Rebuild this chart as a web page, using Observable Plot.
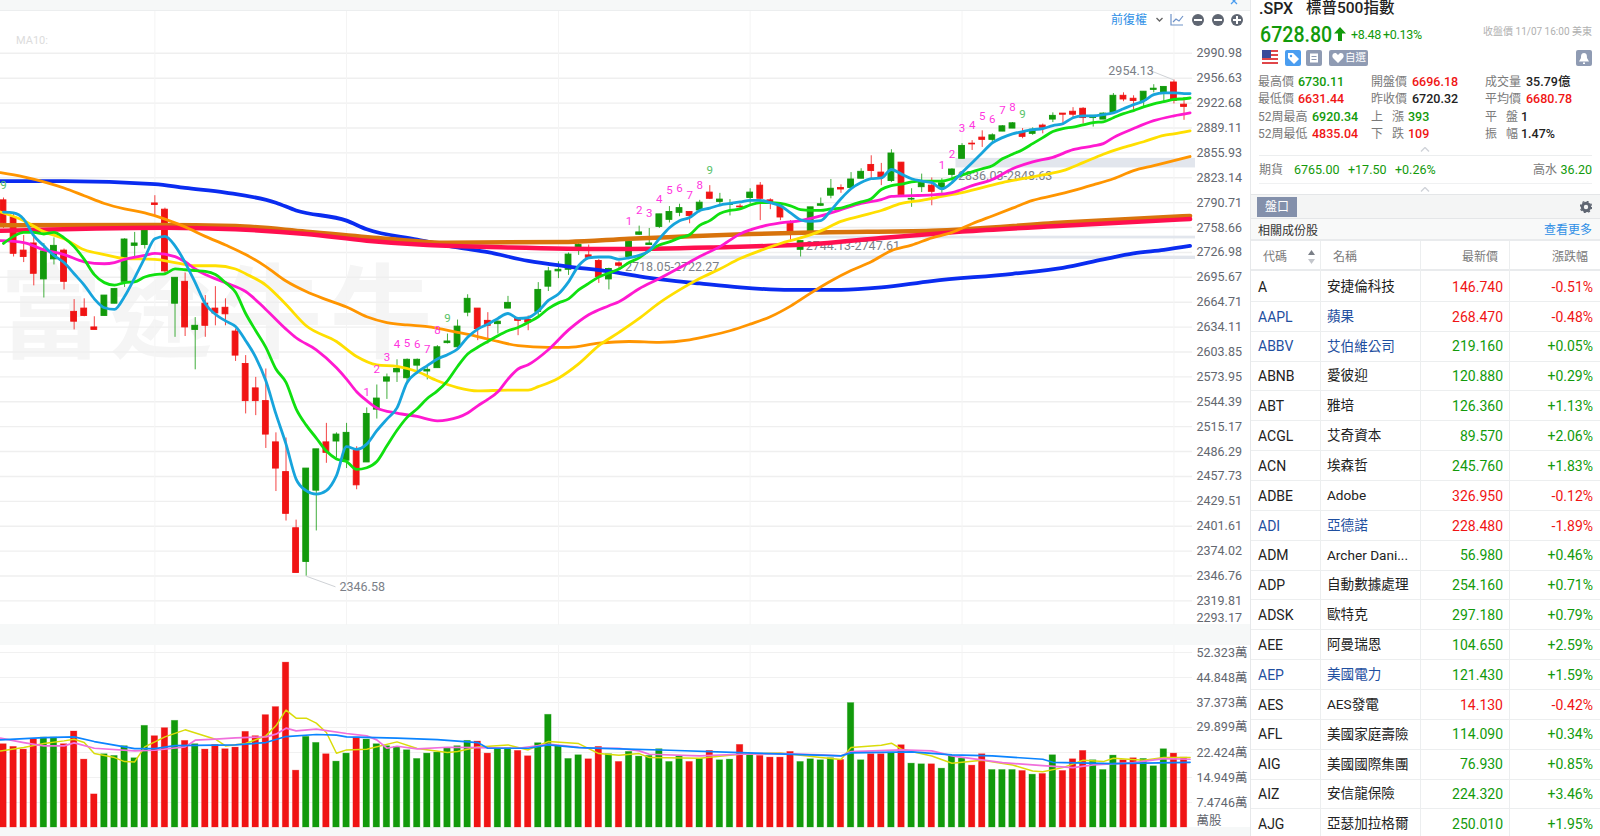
<!DOCTYPE html>
<html lang="zh-Hant">
<head>
<meta charset="utf-8">
<script src="https://cdn.jsdelivr.net/npm/d3@7"></script>
<script src="https://cdn.jsdelivr.net/npm/@observablehq/plot@0.6"></script>
<style>
html,body{margin:0;padding:0;background:#fff;width:1600px;height:836px;overflow:hidden;font-family:Roboto,"Noto Sans CJK TC",sans-serif;}
.abs{position:absolute;white-space:nowrap;line-height:1;}
#chartArea svg{position:absolute;left:0;overflow:visible;background:transparent;}
.band{position:absolute;left:0;width:1250px;background:#f6f8f8;}
#panel{position:absolute;left:1250px;top:0;width:350px;height:836px;border-left:1px solid #e6e8ea;box-sizing:border-box;background:#fff;}
.lab{color:#7a7a7a}.g{color:#129a0b}.r{color:#f01414}.k{color:#222}
</style>
</head>
<body>
<div id="chartArea"></div>
<script>
// ---- price pane ----
const priceTicks=[2990.98,2956.63,2922.68,2889.11,2855.93,2823.14,2790.71,2758.66,2726.98,2695.67,2664.71,2634.11,2603.85,2573.95,2544.39,2515.17,2486.29,2457.73,2429.51,2401.61,2374.02,2346.76,2319.81];
const lastPriceTick=2293.17;
const monthStarts=[15,34,55,74,95,116];
const labelledLow=2346.58, labelledHigh=2954.13;
const opens=[2795,2773,2731,2740,2695,2720,2731,2655,2659,2636,2650,2665,2692,2737,2738,2791,2783,2665,2692,2633,2665,2659,2660,2631,2592,2563,2548,2500,2466,2403,2366,2445,2500,2501,2479,2490,2477,2538,2571,2582,2575,2590,2583,2587,2617,2612,2654,2659,2644,2640,2659,2647,2645,2655,2686,2705,2707,2731,2725,2718,2695,2715,2723,2751,2738,2761,2770,2779,2780,2782,2805,2793,2789,2787,2798,2814,2795,2787,2765,2732,2755,2788,2801,2811,2811,2823,2841,2831,2820,2844,2796,2812,2814,2811,2828,2849,2869,2877,2874,2885,2889,2884,2882,2893,2901,2909,2911.5,2915.5,2903,2901,2910,2933,2929,2926,2941,2937,2951,2921];
const closes=[2766,2727,2723,2702,2730,2737,2692,2643,2650,2633,2675,2683,2745,2740,2757,2789,2705,2697,2636,2638,2638,2653,2652,2602,2548,2548,2509,2470,2419,2354,2470,2492,2488,2509,2511,2451,2533,2551,2576,2586,2597,2597,2585,2612,2619,2637,2671,2634,2638,2643,2666,2644,2642,2682,2705,2707,2726,2738,2722,2698,2708,2712,2742,2754,2740,2777,2780,2785,2775,2792,2797,2796,2790,2786,2805,2797,2792,2773,2755,2743,2786,2790,2810,2809,2822,2832,2833,2824,2856,2802,2797,2819,2806,2817,2835,2866,2868,2874,2880,2892,2896,2878,2887.5,2890,2906,2907.5,2907.5,2903,2906,2909,2933,2928,2926,2938.5,2942.6,2945,2926,2918];
const highs=[2798,2779,2750,2750,2740,2747,2733,2670,2671,2649,2675,2683,2746,2754,2762,2801,2785,2697,2703,2648,2675,2686,2671,2634,2602,2576,2586,2511,2505,2412,2470,2492,2522,2511,2522,2495,2540,2567,2580,2597,2598,2598,2590,2614,2628,2645,2676,2659,2654,2644,2674,2647,2650,2691,2710,2717,2728,2741,2738,2720,2709,2717,2747,2762,2759,2777,2787,2790,2780,2795,2814,2804,2796,2790,2810,2818,2797,2787,2769,2743,2786,2798,2822,2815,2831,2836,2853,2843,2861,2844,2810,2829,2824,2823,2836,2869,2873,2886,2882,2893,2897,2889,2890,2895,2910,2909,2917,2917,2906,2910,2936,2937,2933,2938.5,2948,2945,2954.13,2930.5];
const lows=[2759,2723,2716,2687,2672,2713,2682,2633,2649,2633,2650,2665,2685,2722,2733,2775,2700,2624,2625,2585,2624,2638,2638,2595,2533,2531,2493,2444,2411,2354,2346.58,2400,2476,2482,2470,2446,2477,2527,2550,2570,2570,2580,2573,2587,2616,2610,2649,2620,2616,2628,2659,2626,2632,2650,2680,2696,2700,2725,2722,2690,2682,2707,2723,2750,2738,2759,2766,2774,2765,2779,2796,2788,2775,2784,2790,2769,2783,2769,2743,2723,2755,2787,2797,2804,2811,2823,2823,2814,2818,2802,2786,2805,2788,2804,2820,2849,2860,2864,2869,2885,2889,2875.5,2880,2882,2897,2893,2902,2895,2891,2901,2910,2925,2914,2918,2937,2925,2922,2900];

const ma5Index=[...d3.range(118),117.6];
const ma5=[2780,2779,2771,2750,2737,2725,2716,2702,2688,2671,2660,2658,2674,2697,2722,2746,2749,2737,2716,2691,2665,2652,2644,2637,2620,2600,2572,2533,2498,2458,2445,2441,2445,2462,2495,2492,2498,2513.5,2527,2540,2570,2582,2590,2598,2603,2610,2624,2634,2640,2647,2653,2647,2648,2656,2669,2677,2692,2712,2722,2723,2723,2720,2722,2725,2731,2746,2760,2769,2773,2782,2785,2789,2791,2793,2795,2795,2792,2788,2779,2770,2768,2769,2782,2797,2810,2818,2823,2824,2835,2829,2823,2820,2818,2810,2818,2831,2844,2857,2870,2877,2882,2885,2887.5,2889,2893,2895.5,2903.5,2906,2906,2907.5,2910,2915.5,2921,2926,2934.5,2937,2937,2936,2936];
const ma10Index=[...d3.range(118),117.6];
const ma10=[2740,2749,2754,2754,2752,2754,2747,2736,2720,2701,2691,2688,2691,2692,2698,2701,2702,2708,2707,2706,2705,2701,2691,2679,2653,2632,2612,2586,2570,2539,2520,2505,2490,2481,2478,2469,2471,2478,2496,2514,2529,2539,2551,2560,2572,2589,2604,2612,2619,2626,2632,2636,2642,2649,2659,2666,2671,2682,2690,2698,2703,2708,2716,2722,2731,2738,2742,2747,2751,2763,2769,2778,2782,2784,2789,2792,2792,2791,2788,2783,2782,2782,2784,2785,2789,2793,2797,2809,2814,2816,2819,2820,2820,2820,2823,2828,2832,2836,2840,2849,2855,2861,2869,2877,2885,2889,2891,2894,2897,2898,2903.5,2909,2913,2918,2922,2925,2928,2929,2930];
const ma20Index=[-0.3,2,4,6,8,10,11,12,14,15,17,18,19,20,22,24,26,28,29,31,33,34,35,36,37,39,41,43,44,46,47,48,49,50,51,52,54,56,58,60,61,63,65,67,69,71,73,75,77,79,81,83,85,87,88,90,92,94,96,98,100,102,104,106,108,109,110,112,114,116,117.6];
const ma20=[2743.5,2741,2732,2726,2717,2714.5,2716,2720,2725,2727.5,2723.5,2717,2708,2701,2691,2680,2658,2634,2623.5,2609,2587.5,2574,2559,2548.5,2540,2534,2530,2525,2526,2534,2542.5,2550,2559,2574,2586,2591,2609,2633,2651.5,2662.5,2667.5,2683.5,2696,2709.5,2723.5,2736,2752,2761,2766,2769,2775,2783,2791,2796,2800,2801,2802,2805,2814,2822,2836,2845,2851,2861,2866,2869,2877,2889,2899.5,2906,2910];
const ma30Index=[-0.3,2,4,6,8,10,12,15,17,19,21,23,24,26,28,30,33,35,37,39,41,43,45,47,50,52,53,55,57,59,61,63,65,67,69,71,73,75,77,79,81,83,85,87,89,91,93,95,97,99,101,103,105,107,109,111,113,115,116,117.6];
const ma30=[2780,2769,2755,2746,2732,2726,2721,2720,2716,2712,2712,2708,2702,2688,2664,2638,2619,2601,2591,2589,2583,2572,2564,2560,2561,2561,2565,2575,2592,2614,2630,2647,2666,2682,2696,2708,2721,2731,2740,2747,2756,2768,2775,2782,2791,2795,2800,2805,2811.5,2818,2823,2828,2833.5,2844,2855,2864,2871.5,2880,2882,2886];
const ma60Index=[-0.3,2,4,6,8,10,12,14,16,18,20,22,24,26,28,30,32,34,36,38,40,42,45,47,49,51,54,56,59,62,65,68,70,72,74,76,78,80,82,84,86,88,90,92,94,96,98,100,102,104,106,108,110,112,114,116,117.6];
const ma60=[2831,2825.5,2819,2811,2801,2791,2784,2779,2771,2761,2749,2738,2726,2711,2693,2680,2670,2661,2649,2642,2639,2637,2630,2625,2619,2614,2612,2612,2617,2619,2618,2621,2626,2632,2640,2649,2662,2678,2693,2706,2717,2731,2738,2747,2754,2765,2775,2785,2795,2801,2807.5,2815,2823,2833.5,2840,2846.5,2852];
const ma120Index=[-0.3,6,15,18,22,27,29,34,36,41,45,48,52,56,60,64,69,73,78,83,87,92,100,105,109,112,115,117.6];
const ma120=[2820,2820,2816,2811,2805,2792,2782,2769,2758,2745,2735,2729,2718,2711,2705,2697,2690,2685,2682,2682,2685,2693,2702,2709.5,2720,2727.5,2732,2737];
const ma250Index=[-0.3,15,23,30,38,44,56,62,68,74,81,92,105,117.6];
const ma250=[2763,2763.5,2762,2755,2746,2741,2742,2746,2749,2752,2754,2756,2766.5,2775];
const ma200Index=[-0.3,16,23,30,36,42,50,60,70,81,87,95,105,117.6];
const ma200=[2756,2760,2758,2752,2743.5,2738,2735,2733,2735,2740,2747,2755,2762.5,2771];

const gapLow=[2718.05,2744.13,2836.03];
const gapHigh=[2722.27,2747.61,2848.63];
const gapStart=[61,79,94.4];
const gapLabels=["2718.05-2722.27","2744.13-2747.61","2836.03-2848.63"];
const gapLabelIndex=[61.6,79.5,94.6];
const gapLabelPrice=[2711,2737,2826];

const seqIndex=[0,36,37,38,39,40,41,42,43,44,62,63,64,65,66,67,68,69,70,93,94,95,96,97,98,99,100,101];
const seqPrice=[2814,2558,2586,2599.5,2615,2617,2616,2609,2633,2647,2768,2782,2778,2796,2807.5,2810,2802,2815,2833.5,2840,2855,2890,2893,2906,2902,2914,2917,2908];
const seqLabel=["9","1","2","3","4","5","6","7","8","9","1","2","3","4","5","6","7","8","9","1","2","3","4","5","6","7","8","9"];

// ---- volume pane ----
const volumeTicks=[7.4746,14.949,22.424,29.899,37.373,44.848,52.323];
const volumes=[24.9,24.1,23.3,26.4,26.9,26.9,24.9,28.7,20.3,9.9,21.9,21.4,24.3,20.7,30.4,27.3,29.7,31.9,25.9,24.9,23.3,24.7,23.4,23.9,28.6,27.3,33.6,36,49.3,17,27.1,25.3,21.9,19.7,22.1,26.9,26.3,24.9,24.3,24.1,23.1,20.5,22.1,22.4,23.7,24.3,25.9,25.7,22.1,23.4,23.7,22.9,21.3,25.2,33.7,24.4,20.5,21.6,20.4,24.1,21.9,19.6,22.6,21.2,21.4,23.4,19.6,21.2,19.6,20.5,22.9,20.1,20.3,24.7,21.7,21.4,20.9,20.9,22.6,19.6,20.4,20.1,20.7,20.2,37.2,20.1,21.9,21.9,22.4,24.6,19.1,18.9,18.9,17.6,21.4,20.6,18.5,21.9,17.2,17.2,17.2,16.9,15.8,16,21.6,16.9,20.4,22.9,20.1,17.2,21.5,20.1,20.7,20.5,18.3,23.4,22.1,20.9];
const volBlueIndex=[-0.3,4,7,9,13,15,17,23,26,28,31,33,34,39,43,47,48,52,54,57,61,66,73,83,84,90,94,98,103,104,110,117.6];
const volBlue=[26.2,26.9,27.1,25.7,23.6,23.6,24.5,24.7,25.4,27.2,27.8,27.6,27.1,26.7,26.3,25.4,23.7,23.7,24.7,23.9,23.5,23.1,22.4,21.4,22.3,22.6,21.7,21.4,20.4,19.5,19.1,19.5];
const volPinkIndex=[-0.3,2,4,6,7,9,13,15,18,19,21,23,26,27,28,29,31,34,36,37,38,39,41,44,47,51,54,58,61,63,64,69,73,77,81,83,84,89,92,94,96,99,103,106,108,112,115,117.6];
const volPink=[26.7,25.4,24.4,24.4,25.3,23.7,22.9,23.1,24.1,26.1,26.4,26.8,27.1,27.9,29.7,28.9,29.4,28.1,27.4,26.2,23.7,24.3,23.5,24,23.9,23.7,24.9,23.7,23.7,22.9,21.9,21.4,21.9,22.1,21.7,21.4,22.7,23.2,22.9,21.4,20.6,19.4,18.5,17.9,18.7,19.4,20.6,20.4];
const volYellowIndex=[-0.3,2,4,6,7,8,9,11,12,13,14,16,18,21,22,24,26,27,28,29,30,31,32,33,34,36,39,41,44,45,47,50,52,54,57,59,61,63,64,69,73,77,81,83,84,87,88,89,92,94,97,100,102,103,105,107,109,110,113,115,117.6];
const volYellow=[22.9,23.9,25.1,25.9,26.4,25.4,22.1,20.9,19.7,19.6,24.1,27.1,29.2,26.4,24.4,25.1,27.4,30.4,35.1,32.7,32.7,31.2,28.4,22.2,23.2,23.4,25.6,23.6,22.4,22.7,24.1,24.7,23.2,25.7,25.1,22.1,21.6,22.1,20.9,20.7,21.9,22.3,20.9,20.3,23.9,24.6,25.2,23.4,21.4,19.2,20.1,18.7,16.9,16.7,17.9,20.1,19.7,20.7,20.1,20.9,20.9];

// ---- side panel ----
const codes=["A","AAPL","ABBV","ABNB","ABT","ACGL","ACN","ADBE","ADI","ADM","ADP","ADSK","AEE","AEP","AES","AFL","AIG","AIZ","AJG"];
const names=["安捷倫科技","蘋果","艾伯維公司","愛彼迎","雅培","艾奇資本","埃森哲","Adobe","亞德諾","Archer Dani...","自動數據處理","歐特克","阿曼瑞恩","美國電力","AES發電","美國家庭壽險","美國國際集團","安信龍保險","亞瑟加拉格爾"];
const lastPrices=["146.740","268.470","219.160","120.880","126.360","89.570","245.760","326.950","228.480","56.980","254.160","297.180","104.650","121.430","14.130","114.090","76.930","224.320","250.010"];
const changes=["-0.51%","-0.48%","+0.05%","+0.29%","+1.13%","+2.06%","+1.83%","-0.12%","-1.89%","+0.46%","+0.71%","+0.79%","+2.59%","+1.59%","-0.42%","+0.34%","+0.85%","+3.46%","+1.95%"];
const linkedCodes=["AAPL","ABBV","ADI","AEP"];

const UP="#129a0b",DOWN="#f01414";
// Prices above were read with a coarse ruler; this small correction brings the readings onto the axis's exact log spacing.
const read=p=>(p===labelledLow||p===labelledHigh)?p:2990.7*Math.pow(p/2990.7,1.00694);
const candles=opens.map((o,i)=>({i,o:read(o),c:read(closes[i]),h:read(highs[i]),l:read(lows[i]),v:volumes[i],color:closes[i]>=o?UP:DOWN}));
const pts=(idx,vals)=>idx.map((x,k)=>({x,y:vals[k]}));
const pricePts=(idx,vals)=>idx.map((x,k)=>({x,y:read(vals[k])}));
const xDomain=[-0.297,117.84], xRange=[0,1192];
const halfBody=0.29;
const baseStyle={background:"transparent",overflow:"visible",fontFamily:'Roboto,"Noto Sans CJK TC",sans-serif'};
const maLine=(idx,vals,stroke,strokeWidth)=>Plot.line(pricePts(idx,vals),{x:"x",y:"y",stroke:()=>stroke,strokeWidth,curve:"monotone-x"});
const axisGrey="#63676f";

const pricePlot=Plot.plot({
  width:1250,height:628,marginLeft:0,marginRight:58,marginTop:11,marginBottom:3,
  style:baseStyle,
  x:{domain:xDomain,range:xRange,axis:null},
  y:{type:"log",domain:[2319.81,2990.98],range:[600.4,52.8],axis:null},
  color:{type:"identity"},
  marks:[
    Plot.ruleY(priceTicks,{stroke:"#efefef",strokeWidth:1.4}),
    Plot.ruleX(monthStarts,{stroke:"#f4f4f4",strokeWidth:1}),
    Plot.rect(gapLow.map((low,k)=>({low,high:gapHigh[k],s:gapStart[k]})),{x1:"s",x2:()=>118.14,y1:"low",y2:"high",fill:"#e2e6ed"}),
    Plot.ruleX(candles,{x:"i",y1:"l",y2:"h",stroke:"color",strokeWidth:1,strokeOpacity:0.8}),
    Plot.rect(candles,{x1:d=>d.i-halfBody,x2:d=>d.i+halfBody,y1:"o",y2:"c",fill:"color",stroke:"color",strokeWidth:0.9}),
    Plot.text(gapLabels.map((t,k)=>({t,x:gapLabelIndex[k],y:read(gapLabelPrice[k])})),{x:"x",y:"y",text:"t",textAnchor:"start",fill:"#7b7f88",fontSize:12.5}),
    maLine(ma120Index,ma120,"#0a2cf0",3.8),
    maLine(ma250Index,ma250,"#d8730c",4.5),
    maLine(ma200Index,ma200,"#ff0f4f",4.5),
    maLine(ma60Index,ma60,"#ff9500",2.8),
    maLine(ma30Index,ma30,"#ffdf00",2.8),
    maLine(ma20Index,ma20,"#ff19d0",2.8),
    maLine(ma10Index,ma10,"#10e010",2.8),
    maLine(ma5Index,ma5,"#17a4dc",2.8),
    Plot.text(seqLabel.map((t,k)=>({t,x:seqIndex[k],y:read(seqPrice[k])})),{x:"x",y:"y",text:"t",fill:d=>d.t==="9"?"#57c267":"#ff35e0",fontSize:11.5}),
    Plot.link([{x1:30,y1:labelledLow,x2:32.9,y2:read(2339)},{x1:113.7,y1:read(2967),x2:116,y2:labelledHigh}],{x1:"x1",y1:"y1",x2:"x2",y2:"y2",stroke:"#cfd2d6",strokeWidth:1}),
    Plot.text([{t:"2346.58",x:33.3,y:read(2339)},{t:"2954.13",x:109.5,y:read(2967)}],{x:"x",y:"y",text:"t",textAnchor:"start",fill:"#7b7f88",fontSize:12.5}),
    Plot.axisY(priceTicks,{anchor:"right",tickSize:0,tickPadding:4,tickFormat:d3.format(".2f"),textAnchor:"start",fill:axisGrey,fontSize:12.5,label:null}),
    Plot.text([lastPriceTick],{x:()=>xDomain[1],y:d=>d,text:d3.format(".2f"),textAnchor:"start",dx:4,dy:-8,fill:axisGrey,fontSize:12.5})
  ]
});
pricePlot.style.top="0px";

const volPlot=Plot.plot({
  width:1250,height:196,marginLeft:0,marginRight:58,marginTop:5,marginBottom:9,
  style:baseStyle,
  x:{domain:xDomain,range:xRange,axis:null},
  y:{domain:[0,52.323],range:[187,12],axis:null},
  color:{type:"identity"},
  marks:[
    Plot.ruleY(volumeTicks,{stroke:"#f1f1f1",strokeWidth:1.2}),
    Plot.ruleX(monthStarts,{stroke:"#f4f4f4",strokeWidth:1}),
    Plot.rect(candles,{x1:d=>d.i-0.32,x2:d=>d.i+0.32,y1:()=>0,y2:"v",fill:"color",stroke:"color",strokeOpacity:0.35,strokeWidth:0.8}),
    Plot.line(pts(volYellowIndex,volYellow),{x:"x",y:"y",stroke:()=>"#d9dc0a",strokeWidth:1.5}),
    Plot.line(pts(volPinkIndex,volPink),{x:"x",y:"y",stroke:()=>"#f070dc",strokeWidth:1.7}),
    Plot.line(pts(volBlueIndex,volBlue),{x:"x",y:"y",stroke:()=>"#0b84ff",strokeWidth:1.7}),
    Plot.axisY(volumeTicks,{anchor:"right",tickSize:0,tickPadding:4,tickFormat:d=>d+"萬",textAnchor:"start",fill:axisGrey,fontSize:12.5,label:null}),
    Plot.text(["萬股"],{x:()=>xDomain[1],y:()=>0,text:d=>d,textAnchor:"start",dx:4,dy:-7,fill:axisGrey,fontSize:12.5})
  ]
});
volPlot.style.top="640px";

const area=document.getElementById("chartArea");
const el=(html,parent=document.body)=>{const t=document.createElement("template");t.innerHTML=html.trim();const n=t.content.firstChild;parent.appendChild(n);return n;};
el('<div class="band" style="top:0;height:10px;border-bottom:1px solid #eceeef"></div>',area);
el('<div class="band" style="top:624px;height:21px"></div>',area);
el('<div class="band" style="top:827px;height:9px"></div>',area);
el('<div class="abs" style="left:0;top:255px;font-size:102px;font-weight:700;letter-spacing:8px;color:#f5f5f5;font-family:\'Noto Sans CJK TC\'">富途牛牛</div>',area);
el('<div class="abs" style="left:16px;top:35px;font-size:11px;color:#dcdcdc">MA10:</div>',area);
area.appendChild(pricePlot);
area.appendChild(volPlot);
// toolbar
el('<div class="abs" style="left:1111px;top:14px;font-size:12px;color:#2e8fe6">前復權</div>',area);
el('<svg width="130" height="14" style="position:absolute;left:1152px;top:13px;overflow:visible"><path d="M4.5 5l3 3 3-3" fill="none" stroke="#666" stroke-width="1.4"/><path d="M19 1v11h12M21 9l3-3 3 2 4-5" fill="none" stroke="#6f93c8" stroke-width="1.2"/><circle cx="46" cy="7" r="6" fill="#5f6672"/><rect x="42" y="6" width="8" height="2" fill="#fff"/><circle cx="66" cy="7" r="6" fill="#5f6672"/><rect x="62" y="6" width="8" height="2" fill="#fff"/><circle cx="85" cy="7" r="6" fill="#5f6672"/><rect x="81" y="6" width="8" height="2" fill="#fff"/><rect x="84" y="3" width="2" height="8" fill="#fff"/></svg>',area);
el('<svg width="8" height="5" style="position:absolute;left:1230px;top:0"><path d="M1 -2l6 6M7 -2l-6 6" stroke="#4a9df0" stroke-width="1.3"/></svg>',area);

// ---- panel ---- (x values are page coordinates; the panel's border takes 1px)
const p=el('<div id="panel"></div>');
const T=(x,cy,txt,cls,size=12,extra="")=>el(`<div class="abs ${cls}" style="left:${x-1251}px;top:${cy-size/2+0.4}px;font-size:${size}px;${extra}">${txt}</div>`,p);
const TR=(xr,cy,txt,cls,size=12,extra="")=>el(`<div class="abs ${cls}" style="right:${1600-xr}px;top:${cy-size/2+0.4}px;font-size:${size}px;${extra}">${txt}</div>`,p);
const B=(x,y,w,h,c,extra="")=>el(`<div style="position:absolute;left:${x-1251}px;top:${y}px;width:${w}px;height:${h}px;background:${c};${extra}"></div>`,p);
const M="font-weight:500";

T(1259,8.5,".SPX","k",16,M);
T(1306,8.5,"標普500指數","k",15.5,M);
T(1260,35,"6728.80","g",22,"font-weight:500;transform:scaleX(.89);transform-origin:left center");
el('<svg width="12" height="14" style="position:absolute;left:83px;top:27px"><path d="M6 0l6 6.5H8V14H4V6.5H0z" fill="#129a0b"/></svg>',p);
T(1351,35,"+8.48","g",12.5,"letter-spacing:-.3px");
T(1383,35,"+0.13%","g",12.5,"letter-spacing:-.3px");
TR(1592,32,"收盤價 11/07 16:00 美東","",10,"color:#b0b0b0");
// icon row
el('<svg width="16" height="16" style="position:absolute;left:11px;top:50px"><rect width="16" height="16" fill="#fff"/><g fill="#e0464a"><rect y="0" width="16" height="2"/><rect y="4" width="16" height="2"/><rect y="8" width="16" height="2"/><rect y="12" width="16" height="2"/></g><rect width="9" height="8" fill="#3a4a9a"/></svg>',p);
el('<svg width="16" height="16" style="position:absolute;left:34px;top:50px"><rect width="16" height="16" rx="2" fill="#4a9df0"/><path d="M3 3h5l6 6-5 5-6-6z" fill="#fff"/><circle cx="6" cy="6" r="1.2" fill="#4a9df0"/></svg>',p);
el('<svg width="16" height="16" style="position:absolute;left:55px;top:50px"><rect width="16" height="16" rx="2" fill="#8f9bb3"/><rect x="4" y="3.5" width="8" height="9" fill="#fff"/><rect x="5.5" y="6" width="5" height="1" fill="#8f9bb3"/><rect x="5.5" y="9" width="5" height="1" fill="#8f9bb3"/></svg>',p);
B(1329,50,39,16,"#8f9bb3","border-radius:2px");
T(1345,58,"自選","",10.5,"color:#fff");
el('<svg width="12" height="10" style="position:absolute;left:81px;top:53px"><path d="M6 10L1 5C-1 2 2-1 4.5 0.5L6 2 7.5 0.5C10-1 13 2 11 5z" fill="#fff"/></svg>',p);
B(1576,50,16,16,"#8f9bb3","border-radius:2px");
el('<svg width="10" height="11" style="position:absolute;left:328px;top:53px"><path d="M5 0C2 0 2 3 2 5L0 8.5h10L8 5C8 3 8 0 5 0zM4 9.5h2v1.5H4z" fill="#fff"/></svg>',p);
// stats
const rows=[82,99,117,134];
T(1258,rows[0],"最高價","lab");T(1298,rows[0],"6730.11","g",12.5,M);
T(1371,rows[0],"開盤價","lab");T(1412,rows[0],"6696.18","r",12.5,M);
T(1485,rows[0],"成交量","lab");T(1526,rows[0],"35.79億","k",12.5,M);
T(1258,rows[1],"最低價","lab");T(1298,rows[1],"6631.44","r",12.5,M);
T(1371,rows[1],"昨收價","lab");T(1412,rows[1],"6720.32","k",12.5,M);
T(1485,rows[1],"平均價","lab");T(1526,rows[1],"6680.78","r",12.5,M);
T(1258,rows[2],"52周最高","lab");T(1312,rows[2],"6920.34","g",12.5,M);
T(1371,rows[2],"上","lab");T(1392,rows[2],"漲","lab");T(1408,rows[2],"393","g",12.5,M);
T(1485,rows[2],"平","lab");T(1506,rows[2],"盤","lab");T(1521,rows[2],"1","k",12.5,M);
T(1258,rows[3],"52周最低","lab");T(1312,rows[3],"4835.04","r",12.5,M);
T(1371,rows[3],"下","lab");T(1392,rows[3],"跌","lab");T(1408,rows[3],"109","r",12.5,M);
T(1485,rows[3],"振","lab");T(1506,rows[3],"幅","lab");T(1521,rows[3],"1.47%","k",12.5,M);
const caret=(y)=>el(`<svg width="10" height="5" style="position:absolute;left:169px;top:${y}px"><path d="M1 4.5l4-4 4 4" fill="none" stroke="#cfd3d8" stroke-width="1.4"/></svg>`,p);
caret(147);
B(1259,155,333,1,"#eceeef");
T(1259,170,"期貨","lab",12);T(1294,170,"6765.00","g",12.5);T(1348,170,"+17.50","g",12.5);T(1395,170,"+0.26%","g",12.5);
T(1533,170,"高水","lab",12);TR(1592,170,"36.20","g",12.5);
B(1259,183,333,1,"#f0f1f2");
caret(187);
B(1251,194,349,25,"#f4f5f5","border-top:1px solid #e4e6e8;border-bottom:1px solid #e4e6e8;box-sizing:border-box");
B(1257,197,40,20,"#8390ab");
T(1265,207,"盤口","",12,"color:#fff");
el('<svg width="12" height="12" style="position:absolute;left:329px;top:201px"><circle cx="6" cy="6" r="3.7" fill="none" stroke="#5f6672" stroke-width="3"/><circle cx="6" cy="6" r="5.6" fill="none" stroke="#5f6672" stroke-width="1.4" stroke-dasharray="2 2.4"/></svg>',p);
B(1251,219,349,22,"#f8f9f9","border-bottom:2px solid #e9ebed;box-sizing:border-box");
T(1258,230.5,"相關成份股","",12,"color:#333");
TR(1592,230,"查看更多","",12,"color:#2e8fe6");
T(1263,257,"代碼","lab",12);T(1333,257,"名稱","lab",12);
TR(1498,257,"最新價","lab",12);TR(1588,257,"漲跌幅","lab",12);
el('<svg width="7" height="14" style="position:absolute;left:57px;top:250px"><path d="M3.5 0L7 5H0z" fill="#7a7f87"/><path d="M3.5 14L7 9H0z" fill="#c3c6cb"/></svg>',p);
B(1251,269,349,1.5,"#e9ebed");
[1320,1420,1509].forEach(x=>B(x,241,1,595,"#eceeef"));
const rowH=29.85, firstRow=286.3;
codes.forEach((code,k)=>{
  const cy=firstRow+k*rowH;
  const link=linkedCodes.includes(code);
  const col=link?"#1f4fa0":"#222";
  T(1258,cy,code,"",14,`color:${col}`);
  T(1327,cy,names[k],"",13.6,`color:${col}`);
  const cls=changes[k][0]==="-"?"r":"g";
  TR(1503,cy,lastPrices[k],cls,14);
  TR(1593,cy,changes[k],cls,14);
  B(1251,cy+14.6,349,1,"#eceeef");
});
</script>
</body>
</html>
